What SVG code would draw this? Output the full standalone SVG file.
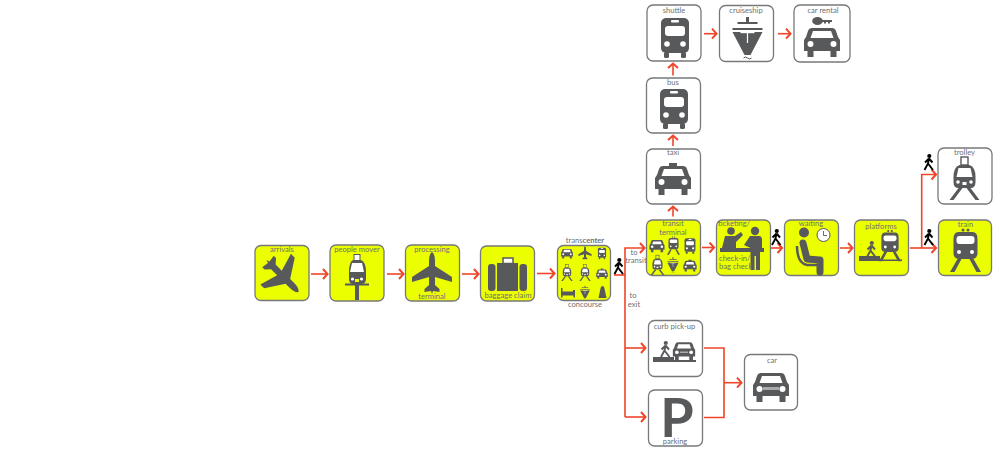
<svg xmlns="http://www.w3.org/2000/svg" width="1000" height="450" viewBox="0 0 1000 450">
<style>
text{font-family:Lato,"Liberation Sans",sans-serif;font-size:7.6px;fill:#707173;text-anchor:middle}
.box{fill:#fff;stroke:#77787b;stroke-width:1.3}
.y{fill:#ecff00}
.g{fill:#58595b}
.w{fill:#fff}
.c path,.c polyline,.c line{fill:none;stroke:#ef4528;stroke-width:1.6}
.a{marker-end:url(#h)}
.gl{fill:none;stroke:#58595b}
</style>
<defs>
<marker id="h" markerUnits="userSpaceOnUse" markerWidth="10" markerHeight="12" refX="7.5" refY="6" orient="auto"><path d="M2.500,1L7,6L2.500,11" fill="none" stroke="#ef4528" stroke-width="2"/></marker>
<g id="car"><path class="g" d="M-10,-14H10Q13,-14 14,-11L16,-5L18,-2V9H14.500V15H8.500V9H-8.500V15H-14.500V9H-18V-2L-16,-5L-14,-11Q-13,-14 -10,-14Z"/><path class="w" d="M-9,-11H9L11.500,-4H-11.500Z"/><circle class="w" cx="-11.500" cy="2" r="3"/><circle class="w" cx="11.500" cy="2" r="3"/></g>
<g id="taxi"><use href="#car"/><rect class="g" x="-4" y="-17" width="8" height="4"/></g>
<g id="bus"><rect class="g" x="-14" y="-20" width="28" height="35" rx="5"/><rect class="w" x="-4" y="-18" width="8" height="2.500" rx="1"/><rect class="w" x="-10" y="-12" width="20" height="10" rx="3"/><circle class="w" cx="-8" cy="6" r="2.800"/><circle class="w" cx="8" cy="6" r="2.800"/><rect class="g" x="-11" y="14" width="5" height="6" rx="1.500"/><rect class="g" x="6" y="14" width="5" height="6" rx="1.500"/></g>
<g id="train"><circle class="g" cx="-2.500" cy="-20" r="1.500"/><circle class="g" cx="2.500" cy="-20" r="1.500"/><path class="g" d="M-7,-18H7Q12,-18 12,-11V3Q12,9 6,9H-6Q-12,9 -12,3V-11Q-12,-18 -7,-18Z"/><rect class="w" x="-9" y="-14" width="18" height="8" rx="3"/><circle class="w" cx="-6.500" cy="2" r="2"/><circle class="w" cx="6.500" cy="2" r="2"/><path class="g" d="M-8,9H-4L-11,22H-15.500ZM4,9H8L15.500,22H11Z"/></g>
<g id="trolley"><rect x="-3.500" y="-17" width="7" height="8" class="gl" stroke-width="1.400"/><path class="g" d="M-5,-9H5Q11,-7 11,3V8Q11,14 6,14H-6Q-11,14 -11,8V3Q-11,-7 -5,-9Z"/><path class="w" d="M-6,-6H6L8,3H-8Z"/><circle class="w" cx="-6.500" cy="8" r="1.800"/><circle class="w" cx="6.500" cy="8" r="1.800"/><rect class="w" x="-2" y="8" width="4" height="3"/><path class="g" d="M-6,14H-2L-11,26H-15ZM2,14H6L15,26H11Z"/></g>
<path id="plane" d="M0,-21Q3,-19 3,-12V-7L20,4V9L3,4V12L7.500,16V19L1,18L0,21L-1,18L-7.500,19V16L-3,12V4L-20,9V4L-3,-7V-12Q-3,-19 0,-21Z"/>
<g id="ship"><rect class="g" x="-1.500" y="-21" width="3" height="5"/><rect class="g" x="-10" y="-16" width="20" height="2"/><rect class="g" x="-15" y="-10" width="30" height="2"/><path class="g" d="M-15,-6H15L3,17H-3Z"/><rect class="w" x="-7" y="-6" width="14" height="1.200"/><rect class="w" x="-.6" y="-6" width="1.200" height="11"/><path d="M-4,20Q-2,18 0,20T4,20" class="gl"/></g>
<g id="walker"><circle cx=".8" cy="-6" r="2.100"/><path d="M.5,-3.500L-.5,1.500L-4,8M-.5,1.500L4.500,8M.5,-3.500L-3.500,.5M.5,-3.500L4,.5" fill="none" stroke="currentColor" stroke-width="1.900"/></g>
</defs>
<rect width="1000" height="450" fill="#fff"/>
<g id="connectors" class="c">
<line class="a" x1="311" y1="274" x2="328" y2="274"/>
<line class="a" x1="387" y1="274" x2="404" y2="274"/>
<line class="a" x1="462" y1="274" x2="479" y2="274"/>
<line class="a" x1="537" y1="273.500" x2="555" y2="273.500"/>
<path d="M614,275H625"/>
<polyline class="a" points="625,417 625,248 645,248"/>
<line class="a" x1="625" y1="348" x2="646" y2="348"/>
<polyline class="a" points="625,417 646,417"/>
<line class="a" x1="702" y1="247.500" x2="714.500" y2="247.500"/>
<line class="a" x1="771" y1="248" x2="782.500" y2="248"/>
<line class="a" x1="840" y1="248" x2="853" y2="248"/>
<line class="a" x1="910" y1="248" x2="936.500" y2="248"/>
<polyline class="a" points="921.700,248 921.700,174.500 936.500,174.500"/>
<line class="a" x1="673" y1="216.500" x2="673" y2="206"/>
<line class="a" x1="673" y1="146" x2="673" y2="135"/>
<line class="a" x1="673" y1="75.500" x2="673" y2="63"/>
<line class="a" x1="704" y1="33.700" x2="717" y2="33.700"/>
<line class="a" x1="778" y1="33.700" x2="791" y2="33.700"/>
<path d="M704,348H724V417.500H704"/>
<line class="a" x1="724" y1="382.700" x2="742" y2="382.700"/>
</g>
<g id="arrivals"><rect class="box y" x="255" y="245.500" width="54" height="55" rx="6"/><use href="#plane" class="g" transform="translate(282.500,276) rotate(135) scale(1.08)"/><text x="282" y="252">arrivals</text></g>
<g id="people-mover"><rect class="box y" x="330" y="245" width="54" height="56" rx="6"/><rect x="354" y="254.500" width="6" height="6" class="w" stroke="#58595b"/><path class="g" d="M353,260H361Q366,262 366,272V279Q366,284 361,284H353Q349,284 349,279V272Q349,262 353,260Z"/><path class="w" d="M352,263H362L364,272H350Z"/><circle class="w" cx="352.500" cy="279" r="1.600"/><circle class="w" cx="361.500" cy="279" r="1.600"/><rect x="355" y="279" width="4" height="3" class="y"/><rect class="g" x="345" y="283.500" width="24" height="2"/><rect class="g" x="355" y="285" width="4" height="15"/><text x="357" y="252">people mover</text></g>
<g id="processing"><rect class="box y" x="405.500" y="245" width="54" height="56" rx="6"/><use href="#plane" class="g" transform="translate(432,273)"/><text x="432" y="252">processing</text><text x="432" y="299">terminal</text></g>
<g id="baggage-claim"><rect class="box y" x="480.500" y="246" width="54" height="55" rx="6"/><rect x="503" y="258" width="10" height="5.500" class="w" stroke="#58595b" stroke-width="1.500"/><rect class="g" x="488" y="264" width="7.500" height="27" rx="3"/><rect class="g" x="497" y="263" width="21" height="28"/><rect class="g" x="519.500" y="264" width="7.500" height="27" rx="3"/><text x="508" y="298">baggage claim</text></g>
<g id="transcenter"><rect class="box y" x="557.500" y="245.500" width="53" height="55" rx="6"/>
<use href="#car" transform="translate(567,253.500) scale(.33)"/><use href="#plane" class="g" transform="translate(585,253) scale(.33)"/><use href="#bus" transform="translate(602,253.500) scale(.29)"/>
<use href="#trolley" transform="translate(567,271) scale(.38)"/><use href="#trolley" transform="translate(585,271) scale(.38)"/><use href="#taxi" transform="translate(602,274) scale(.32)"/>
<path class="g" d="M561,288H562.500V291.500H573V290H575V297.500H573.500V295.500H562.500V297.500H561Z"/><use href="#ship" transform="translate(585,292.500) scale(.32)"/><path class="g" d="M600.500,288.500Q600.500,286 602.500,286Q604.500,286 604.500,288.500L606.500,298H598.500Z"/>
<text x="585" y="243"><tspan>trans</tspan><tspan font-weight="700">center</tspan></text><text x="585" y="306.500">concourse</text></g>
<g id="label-to-transit"><text x="634" y="254.500">to</text><text x="636" y="263">transit</text></g>
<g id="label-to-exit"><text x="633" y="298">to</text><text x="634" y="306.500">exit</text></g>
<g id="walker-concourse" color="#000"><use href="#walker" transform="translate(618.500,266)"/></g>
<g id="transit-terminal"><rect class="box y" x="646.500" y="220" width="54" height="55.500" rx="6"/>
<use href="#car" transform="translate(657,246) scale(.42)"/><use href="#train" transform="translate(673.500,245.500) scale(.42)"/><use href="#bus" transform="translate(690,246) scale(.39)"/>
<use href="#trolley" transform="translate(657.500,263) scale(.46)"/><use href="#ship" transform="translate(673,265) scale(.37)"/><use href="#taxi" transform="translate(690,266) scale(.37)"/>
<text x="673" y="226">transit</text><text x="673" y="235">terminal</text></g>
<g id="ticketing"><rect class="box y" x="716.500" y="220" width="54" height="55.500" rx="6"/>
<circle class="g" cx="731" cy="231" r="3.800"/><path class="g" d="M725,236H735L741,232L743,235L736,242V248H722Z"/>
<rect class="g" x="720" y="248" width="44" height="4"/>
<circle class="g" cx="755" cy="231" r="4.200"/><path class="g" d="M750,236H759Q762,236 762,240V248H760V270H756V256H754.500V270H750.500V248L744,245L750,236Z"/>
<text x="718" y="226" style="text-anchor:start">ticketing/</text><text x="719" y="261" style="text-anchor:start">check-in/</text><text x="719" y="269" style="text-anchor:start">bag check</text></g>
<g id="walker-ticketing" color="#000"><use href="#walker" transform="translate(776,237)"/></g>
<g id="waiting"><rect class="box y" x="784.500" y="220" width="54" height="55.500" rx="6"/>
<circle class="g" cx="804" cy="232.500" r="5"/><path class="gl" d="M803,243L807,259L820,260V272" stroke-width="7" stroke-linecap="round" stroke-linejoin="round"/><path class="gl" d="M797,246Q797,263 807,265H817" stroke-width="2.500"/>
<circle cx="823.500" cy="235" r="6.500" class="w" stroke="#58595b"/><path d="M823.500,231V235.500H827" class="gl" stroke-width=".9"/>
<text x="811" y="226">waiting</text></g>
<g id="platforms"><rect class="box y" x="854.500" y="220" width="54" height="55.500" rx="6"/>
<rect class="g" x="859" y="256" width="21" height="5"/><rect class="g" x="880" y="259.500" width="22" height="1.500"/>
<g color="#58595b" class="g"><use href="#walker" transform="translate(871,249)"/></g><use href="#train" transform="translate(890,245.500) scale(.72)"/>
<text x="881" y="229">platforms</text></g>
<g id="train-node"><rect class="box y" x="938.500" y="220" width="53" height="55.500" rx="6"/><use href="#train" transform="translate(965.500,250)"/><text x="965.500" y="227">train</text></g>
<g id="walker-train" color="#000"><use href="#walker" transform="translate(928.500,237)"/></g>
<g id="trolley-node"><rect class="box" x="938" y="148" width="54" height="56" rx="6"/><use href="#trolley" transform="translate(964.500,174)"/><text x="964.500" y="155">trolley</text></g>
<g id="walker-trolley" color="#000"><use href="#walker" transform="translate(928.500,162)"/></g>
<g id="taxi-node"><rect class="box" x="646.500" y="149" width="54" height="55" rx="6"/><use href="#taxi" transform="translate(673,180)"/><text x="673" y="155">taxi</text></g>
<g id="bus-node"><rect class="box" x="646.500" y="78" width="54" height="55" rx="6"/><use href="#bus" transform="translate(674,109)"/><text x="673" y="85">bus</text></g>
<g id="shuttle"><rect class="box" x="647" y="5" width="54" height="56" rx="6"/><use href="#bus" transform="translate(675,38)"/><text x="674" y="13">shuttle</text></g>
<g id="cruiseship"><rect class="box" x="719.500" y="5.500" width="54" height="56" rx="6"/><use href="#ship" transform="translate(747.500,38)"/><text x="746" y="13">cruiseship</text></g>
<g id="car-rental"><rect class="box" x="794" y="5" width="56" height="57" rx="6"/><use href="#car" transform="translate(822,42)"/><ellipse class="g" cx="817.500" cy="21" rx="5.300" ry="4"/><path class="g" d="M821,20H832V22H830V23.500H828V22H826V23.500H824V22H821Z"/><text x="823" y="13">car rental</text></g>
<g id="curb-pick-up"><rect class="box" x="648.500" y="320.500" width="54" height="56" rx="6"/><rect class="g" x="653" y="357" width="21" height="5"/><rect class="g" x="673" y="360" width="23" height="2"/><g color="#58595b" class="g"><use href="#walker" transform="translate(665,349)"/></g><use href="#car" transform="translate(684,351) scale(.62)"/><rect x="680" y="351.500" width="8" height="1.500" fill="#a7a9ac"/><text x="674.500" y="329">curb pick-up</text></g>
<g id="parking"><rect class="box" x="648.500" y="390" width="54" height="56" rx="6"/><text x="677" y="437" style="font-size:54px;font-weight:700;fill:#58595b">P</text><text x="675" y="444">parking</text></g>
<g id="car-node"><rect class="box" x="744.500" y="354.500" width="53" height="55.500" rx="6"/><use href="#car" transform="translate(771,387)"/><rect x="763" y="387" width="16" height="3" fill="#a7a9ac"/><text x="772" y="363">car</text></g>
</svg>
